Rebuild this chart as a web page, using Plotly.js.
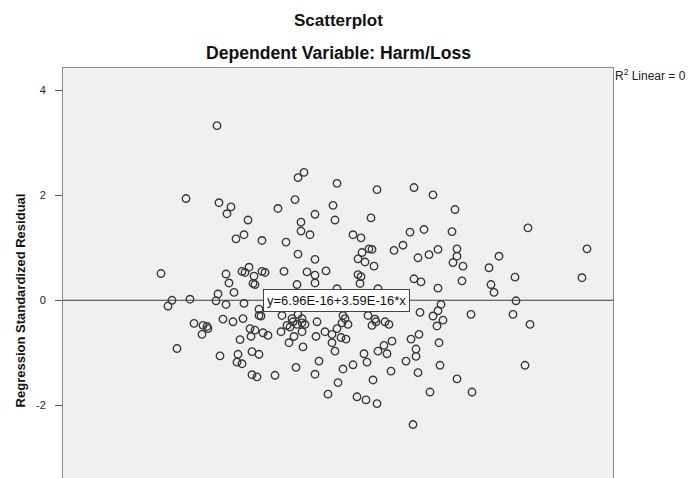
<!DOCTYPE html>
<html>
<head>
<meta charset="utf-8">
<script src="https://cdn.plot.ly/plotly-3.0.1.min.js"></script>
<style>
html,body{margin:0;padding:0;overflow:hidden;background:#fff;width:689px;height:478px;}
#chart{width:689px;height:573px;}
</style>
</head>
<body>
<div id="chart"></div>
<script>
// Regression standardized predicted values (x) and standardized residuals (y)
const predicted = [
-0.83,-1.14,-0.81,-0.69,-0.73,-0.52,0.04,-0.02,0.37,0.77,-0.05,-0.22,0.33,0.15,0.35,0.71,0.01,1.14,1.33,1.55,
-0.64,-0.56,-0.38,-1.39,-0.74,-0.58,-0.55,-0.51,-0.46,-0.38,-0.35,-0.71,-0.47,-0.45,-0.66,-0.82,-1.28,-1.32,-1.10,-0.84,-0.74,-0.56,-0.41,-0.41,-0.39,-0.77,-0.67,-0.57,-1.06,-0.97,
0.01,0.10,-0.14,0.53,0.61,-0.02,0.15,0.69,0.72,0.94,0.58,0.62,0.65,0.74,-0.16,0.07,0.15,0.26,0.58,0.61,0.15,-0.03,0.60,0.37,0.78,-0.18,-0.08,-0.02,0.02,0.43,0.45,0.68,0.75,0.85,
1.10,1.24,1.52,1.03,1.18,1.29,1.38,1.57,1.57,1.53,1.63,1.99,1.89,2.15,1.14,1.21,1.62,1.38,1.91,1.94,1.41,1.20,1.38,1.33,1.43,1.71,2.13,2.16,
2.28,2.87,2.82,2.30,2.25,
-0.93,-0.92,-0.98,-0.50,-0.45,-0.37,-0.32,-0.60,-0.49,-1.23,-0.80,-0.62,-0.63,-0.58,-0.48,-0.41,-0.48,-0.43,
-0.19,-0.10,-0.13,-0.07,-0.03,0.02,0.05,-0.06,0.02,-0.11,0.03,0.17,0.16,0.25,0.32,0.37,0.42,0.48,0.41,0.46,0.32,0.35,0.19,-0.04,-0.25,0.15,0.43,0.53,0.38,0.28,0.64,0.67,0.78,0.84,0.87,0.92,0.72,0.89,0.76,0.91,0.73,0.57,0.66,0.77,
1.11,1.19,1.16,1.16,1.06,1.18,1.39,1.40,1.37,1.57,1.30,1.72,1.13
];
const residual = [
3.33,1.94,1.86,1.78,1.65,1.53,2.44,2.34,2.23,2.11,1.92,1.75,1.81,1.64,1.53,1.57,1.49,2.15,2.01,1.73,
1.17,1.25,1.14,0.51,0.50,0.55,0.53,0.63,0.46,0.55,0.53,0.33,0.32,0.30,0.15,0.12,0.00,-0.11,0.02,-0.01,-0.08,-0.06,-0.17,-0.29,-0.30,-0.36,-0.41,-0.35,-0.44,-0.48,
1.32,1.25,1.11,1.25,1.19,0.88,0.78,0.98,0.97,0.95,0.79,0.91,0.73,0.65,0.55,0.54,0.48,0.56,0.49,0.45,0.33,0.30,0.32,0.22,0.22,-0.29,-0.35,-0.27,-0.35,-0.29,-0.35,-0.29,-0.36,-0.41,
1.30,1.35,1.31,1.05,0.81,0.87,0.97,0.98,0.84,0.72,0.65,0.84,0.62,0.44,0.41,0.35,0.37,0.23,0.30,0.15,-0.08,-0.23,-0.20,-0.30,-0.38,-0.27,-0.27,-0.01,
1.38,0.98,0.43,-0.46,-1.24,
-0.50,-0.54,-0.65,-0.54,-0.57,-0.62,-0.67,-0.75,-0.69,-0.92,-1.06,-1.03,-1.18,-1.21,-0.98,-1.03,-1.42,-1.46,
-0.60,-0.51,-0.48,-0.41,-0.46,-0.43,-0.46,-0.69,-0.60,-0.81,-0.89,-0.41,-0.69,-0.60,-0.65,-0.54,-0.43,-0.46,-0.71,-0.74,-0.81,-0.97,-1.16,-1.28,-1.43,-1.41,-1.31,-1.23,-1.57,-1.79,-1.02,-1.18,-0.97,-0.86,-1.02,-0.78,-0.48,-0.46,-0.41,-1.35,-1.52,-1.84,-1.90,-1.97,
-0.74,-0.65,-0.93,-1.07,-1.16,-1.38,-0.81,-1.24,-0.49,-1.50,-1.75,-1.75,-2.37
];
const yTicks = [-2, 0, 2, 4];
const fitIntercept = 6.96e-16;
const fitSlope = 3.59e-16;
const fitLabel = "y=6.96E-16+3.59E-16*x";
const r2Label = "R<sup>2</sup> Linear = 0";
const chartTitle = "Scatterplot";
const chartSubtitle = "Dependent Variable: Harm/Loss";

const FONT = "Liberation Sans, Arial, sans-serif";
const xRange = [-2.37, 3.13];

const traces = [
  {
    type: "scatter", mode: "lines",
    x: xRange, y: xRange.map(v => fitIntercept + fitSlope * v),
    line: {color: "#3c3c3c", width: 1},
    hoverinfo: "skip", showlegend: false
  },
  {
    type: "scatter", mode: "markers",
    x: predicted, y: residual,
    marker: {symbol: "circle-open", size: 7.5, color: "#383838", line: {width: 1.35, color: "#383838"}},
    showlegend: false
  }
];

const layout = {
  width: 689, height: 573,
  margin: {l: 63, r: 76, t: 67.5, b: 40},
  paper_bgcolor: "#ffffff",
  plot_bgcolor: "#f0f0f0",
  font: {family: FONT, color: "#222"},
  showlegend: false,
  xaxis: {
    range: xRange, showgrid: false, zeroline: false,
    showline: true, mirror: true, linecolor: "#8a8a8a", linewidth: 1,
    ticks: "", showticklabels: false
  },
  yaxis: {
    range: [-4.438, 4.429], tickvals: yTicks, ticktext: yTicks.map(String),
    showgrid: false, zeroline: false,
    showline: true, mirror: true, linecolor: "#8a8a8a", linewidth: 1,
    ticks: "outside", ticklen: 7, tickcolor: "#555",
    ticklabelstandoff: 7,
    tickfont: {size: 11, color: "#222"},
    title: {text: "<b>Regression Standardized Residual</b>", font: {size: 13, color: "#111"}, standoff: 7}
  },
  annotations: [
    {xref: "paper", yref: "paper", x: 0.5, y: (533 - 20) / 465.5, text: "<b>" + chartTitle + "</b>",
     showarrow: false, xanchor: "center", yanchor: "middle", font: {size: 17, color: "#111"}},
    {xref: "paper", yref: "paper", x: 0.5, y: (533 - 52) / 465.5, text: "<b>" + chartSubtitle + "</b>",
     showarrow: false, xanchor: "center", yanchor: "middle", font: {size: 17.6, color: "#111"}},
    {xref: "paper", yref: "y", x: 1.0, y: 4.29, text: r2Label, showarrow: false,
     xanchor: "left", yanchor: "middle", font: {size: 12, color: "#222"}},
    {xref: "x", yref: "y", x: 0.36, y: 0, text: fitLabel, showarrow: false,
     xanchor: "center", yanchor: "middle", font: {size: 13, color: "#111"},
     bgcolor: "#ffffff", bordercolor: "#444", borderwidth: 1, borderpad: 3}
  ]
};

Plotly.newPlot("chart", traces, layout, {staticPlot: true, displayModeBar: false});
</script>
</body>
</html>
